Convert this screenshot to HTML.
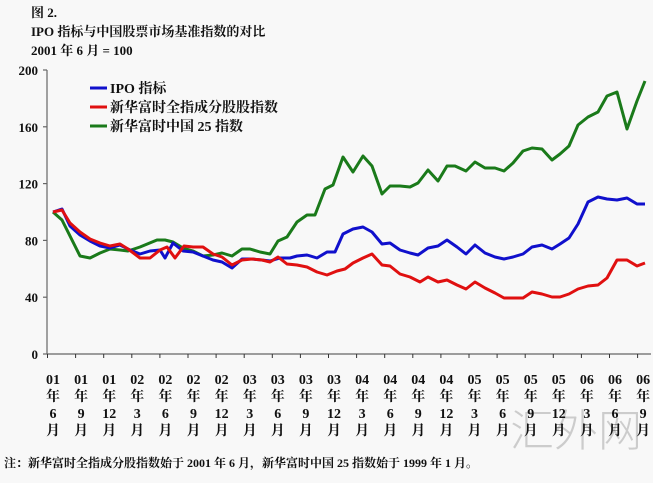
<!DOCTYPE html>
<html><head><meta charset="utf-8"><style>
body{margin:0;background:#f8f8f8;}
svg{display:block;font-family:"Liberation Serif","Noto Serif CJK SC",serif;}
</style></head><body>
<svg width="653" height="483" viewBox="0 0 653 483" xmlns="http://www.w3.org/2000/svg">
<rect width="653" height="483" fill="#f8f8f8"/>
<g font-weight="bold" font-size="13" fill="#111">
<text x="31" y="17">图 2.</text>
<text x="31" y="36">IPO 指标与中国股票市场基准指数的对比</text>
<text x="31" y="55">2001 年 6 月 = 100</text>
</g>
<text x="642" y="446" font-size="44" fill="#cccccc" text-anchor="end" font-family="'Noto Sans CJK SC',sans-serif" font-weight="300">汇外网</text>
<g stroke="#666" stroke-width="1.2">
<line x1="47" y1="70" x2="47" y2="354"/>
<line x1="47" y1="354" x2="651" y2="354"/>
<line x1="43" y1="70" x2="47" y2="70"/><line x1="43" y1="126.8" x2="47" y2="126.8"/><line x1="43" y1="183.6" x2="47" y2="183.6"/><line x1="43" y1="240.4" x2="47" y2="240.4"/><line x1="43" y1="297.2" x2="47" y2="297.2"/><line x1="43" y1="354" x2="47" y2="354"/>
</g>
<g stroke="#333" stroke-width="1">
<line x1="47.5" y1="354" x2="47.5" y2="358"/><line x1="75.6" y1="354" x2="75.6" y2="358"/><line x1="103.7" y1="354" x2="103.7" y2="358"/><line x1="131.8" y1="354" x2="131.8" y2="358"/><line x1="159.9" y1="354" x2="159.9" y2="358"/><line x1="188" y1="354" x2="188" y2="358"/><line x1="216.1" y1="354" x2="216.1" y2="358"/><line x1="244.2" y1="354" x2="244.2" y2="358"/><line x1="272.3" y1="354" x2="272.3" y2="358"/><line x1="300.4" y1="354" x2="300.4" y2="358"/><line x1="328.5" y1="354" x2="328.5" y2="358"/><line x1="356.6" y1="354" x2="356.6" y2="358"/><line x1="384.7" y1="354" x2="384.7" y2="358"/><line x1="412.8" y1="354" x2="412.8" y2="358"/><line x1="440.9" y1="354" x2="440.9" y2="358"/><line x1="469" y1="354" x2="469" y2="358"/><line x1="497.1" y1="354" x2="497.1" y2="358"/><line x1="525.2" y1="354" x2="525.2" y2="358"/><line x1="553.3" y1="354" x2="553.3" y2="358"/><line x1="581.4" y1="354" x2="581.4" y2="358"/><line x1="609.5" y1="354" x2="609.5" y2="358"/><line x1="637.6" y1="354" x2="637.6" y2="358"/>
</g>
<g font-size="13" font-weight="bold" fill="#111" text-anchor="end">
<text x="38" y="75">200</text><text x="38" y="131.8">160</text><text x="38" y="188.6">120</text><text x="38" y="245.4">80</text><text x="38" y="302.2">40</text><text x="38" y="359">0</text>
</g>
<g font-size="14" font-weight="bold" fill="#111" text-anchor="middle">
<text y="384"><tspan x="53">01</tspan><tspan x="81.1">01</tspan><tspan x="109.2">01</tspan><tspan x="137.3">02</tspan><tspan x="165.4">02</tspan><tspan x="193.5">02</tspan><tspan x="221.6">02</tspan><tspan x="249.7">03</tspan><tspan x="277.8">03</tspan><tspan x="305.9">03</tspan><tspan x="334">03</tspan><tspan x="362.1">04</tspan><tspan x="390.2">04</tspan><tspan x="418.3">04</tspan><tspan x="446.4">04</tspan><tspan x="474.5">05</tspan><tspan x="502.6">05</tspan><tspan x="530.7">05</tspan><tspan x="558.8">05</tspan><tspan x="586.9">06</tspan><tspan x="615">06</tspan><tspan x="643.1">06</tspan></text>
<text y="401"><tspan x="53">年</tspan><tspan x="81.1">年</tspan><tspan x="109.2">年</tspan><tspan x="137.3">年</tspan><tspan x="165.4">年</tspan><tspan x="193.5">年</tspan><tspan x="221.6">年</tspan><tspan x="249.7">年</tspan><tspan x="277.8">年</tspan><tspan x="305.9">年</tspan><tspan x="334">年</tspan><tspan x="362.1">年</tspan><tspan x="390.2">年</tspan><tspan x="418.3">年</tspan><tspan x="446.4">年</tspan><tspan x="474.5">年</tspan><tspan x="502.6">年</tspan><tspan x="530.7">年</tspan><tspan x="558.8">年</tspan><tspan x="586.9">年</tspan><tspan x="615">年</tspan><tspan x="643.1">年</tspan></text>
<text y="418"><tspan x="53">6</tspan><tspan x="81.1">9</tspan><tspan x="109.2">12</tspan><tspan x="137.3">3</tspan><tspan x="165.4">6</tspan><tspan x="193.5">9</tspan><tspan x="221.6">12</tspan><tspan x="249.7">3</tspan><tspan x="277.8">6</tspan><tspan x="305.9">9</tspan><tspan x="334">12</tspan><tspan x="362.1">3</tspan><tspan x="390.2">6</tspan><tspan x="418.3">9</tspan><tspan x="446.4">12</tspan><tspan x="474.5">3</tspan><tspan x="502.6">6</tspan><tspan x="530.7">9</tspan><tspan x="558.8">12</tspan><tspan x="586.9">3</tspan><tspan x="615">6</tspan><tspan x="643.1">9</tspan></text>
<text y="435"><tspan x="53">月</tspan><tspan x="81.1">月</tspan><tspan x="109.2">月</tspan><tspan x="137.3">月</tspan><tspan x="165.4">月</tspan><tspan x="193.5">月</tspan><tspan x="221.6">月</tspan><tspan x="249.7">月</tspan><tspan x="277.8">月</tspan><tspan x="305.9">月</tspan><tspan x="334">月</tspan><tspan x="362.1">月</tspan><tspan x="390.2">月</tspan><tspan x="418.3">月</tspan><tspan x="446.4">月</tspan><tspan x="474.5">月</tspan><tspan x="502.6">月</tspan><tspan x="530.7">月</tspan><tspan x="558.8">月</tspan><tspan x="586.9">月</tspan><tspan x="615">月</tspan><tspan x="643.1">月</tspan></text>
</g>
<g fill="none" stroke-width="3" stroke-linejoin="round">
<polyline stroke="#1a7a1a" points="53,212 62,220 80,256 90,258 100,253 110,249 120,250 128,251 140,247 157,240 165,240 173,242 183,248 193,251 203,256 213,255 222,253 232,256 242,249 250,249 260,252 270,254 278,241 287,237 297,222 307,215 315,215 325,189 333,185 343,157 353,172 363,156 372,166 382,194 390,186 400,186 410,187 418,183 428,170 438,181 447,166 455,166 466,171 475,162 485,168 495,168 504,171 513,163 523,151 532,148 542,149 552,160 560,154 569,146 578,125 588,117 598,112 607,96 617,92 627,129 637,101 645,81"/>
<polyline stroke="#1010cc" points="53,212 62,209 70,226 80,235 90,241 100,246 110,248 120,245 130,250 140,254 150,251 160,250 165,258 173,243 183,251 193,252 203,256 213,260 222,262 232,268 242,259 252,259 262,260 270,261 280,258 290,258 297,256 307,255 317,258 327,252 335,252 343,234 353,229 363,227 372,232 382,244 390,243 400,250 410,253 418,255 428,248 438,246 447,240 457,247 466,254 475,245 485,253 495,257 504,259 513,257 523,254 532,247 542,245 552,249 560,244 569,238 578,224 588,202 598,197 607,199 617,200 627,198 637,204 645,204"/>
<polyline stroke="#e01010" points="53,212 62,210 70,223 80,232 90,239 100,243 110,246 120,244 128,249 140,258 150,258 160,250 167,247 175,258 184,246 193,247 203,247 213,254 222,257 232,265 242,260 252,259 262,260 270,262 278,257 287,264 297,265 307,267 317,272 327,275 337,271 345,269 353,263 363,258 372,254 382,265 390,266 400,274 410,277 420,282 428,277 438,282 447,280 457,285 466,289 475,282 485,288 495,293 504,298 513,298 523,298 532,292 542,294 552,297 560,297 569,294 578,289 588,286 598,285 607,278 617,260 627,260 637,266 645,263"/>
</g>
<g stroke-width="3">
<line x1="90" y1="88" x2="107" y2="88" stroke="#1010cc"/>
<line x1="90" y1="107" x2="107" y2="107" stroke="#e01010"/>
<line x1="90" y1="126" x2="107" y2="126" stroke="#1a7a1a"/>
</g>
<g font-size="14" font-weight="bold" fill="#111">
<text x="110" y="93">IPO 指标</text>
<text x="110" y="112">新华富时全指成分股股指数</text>
<text x="110" y="131">新华富时中国 25 指数</text>
</g>
<text x="4" y="467" font-size="12" font-weight="bold" fill="#111">注：新华富时全指成分股指数始于 2001 年 6 月，新华富时中国 25 指数始于 1999 年 1 月。</text>
</svg>
</body></html>
